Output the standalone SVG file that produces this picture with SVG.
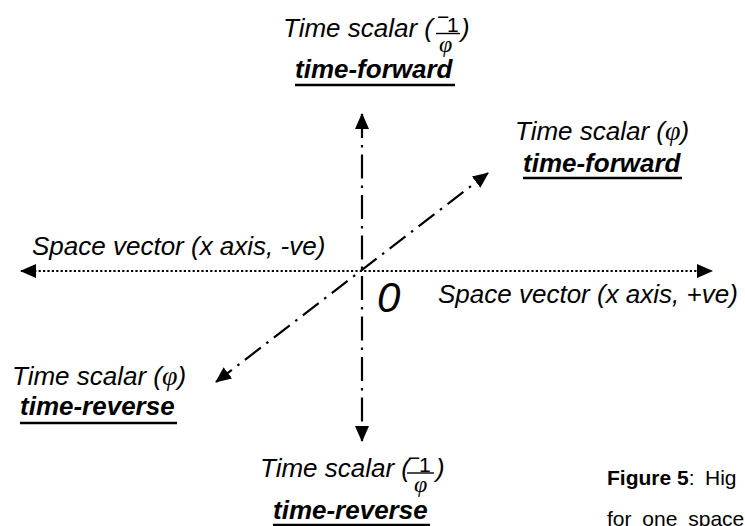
<svg xmlns="http://www.w3.org/2000/svg" width="745" height="526" viewBox="0 0 745 526">
<style>
.lbl{font-family:"Liberation Sans",Arial,sans-serif;font-size:26px;font-style:italic;fill:#000}
.bold{font-family:"Liberation Sans",Arial,sans-serif;font-size:26px;font-style:italic;font-weight:bold;fill:#000}
.num{font-family:"Liberation Sans",Arial,sans-serif;font-size:21px;fill:#000}
.phi{font-family:"Liberation Serif","DejaVu Serif",serif;font-size:24px;font-style:italic;fill:#000}
.phil{font-family:"Liberation Serif","DejaVu Serif",serif;font-size:28px;font-style:italic}
.ul{stroke:#000;stroke-width:2.5}
.bar{stroke:#000;stroke-width:1.4}
.cap{font-family:"Liberation Sans",Arial,sans-serif;font-size:21px;fill:#000}
.axis{fill:none;stroke:#000;stroke-width:2.2}
.dot{stroke-dasharray:2.2 2.2}
.dd{stroke-dasharray:24 7 2.5 7}
.dd2{stroke-dasharray:20 7 2.5 7}
</style>
<defs>
<marker id="ah" viewBox="0 0 16 14" refX="15" refY="7" markerWidth="16" markerHeight="14" markerUnits="userSpaceOnUse" orient="auto-start-reverse">
<path d="M0,0 L16,7 L0,14 Z" fill="#000"/>
</marker>
</defs>
<g id="connectors">
<line class="axis dot" x1="21" y1="271" x2="712" y2="271" marker-start="url(#ah)" marker-end="url(#ah)"/>
<line class="axis dd" x1="362" y1="114" x2="362" y2="441" marker-start="url(#ah)" marker-end="url(#ah)"/>
<line class="axis dd2" x1="216" y1="382" x2="488" y2="173" marker-start="url(#ah)" marker-end="url(#ah)"/>
</g>
<g id="top-label">
<text class="lbl" x="283" y="37">Time scalar (</text>
<text class="num" x="437" y="24">−</text>
<text class="num" x="447" y="32">1</text>
<line class="bar" x1="436" y1="33.5" x2="460" y2="33.5"/>
<text class="phi" x="439" y="52">φ</text>
<text class="lbl" x="461" y="37">)</text>
<text class="bold" x="295" y="78">time-forward</text>
<line class="ul" x1="295" y1="85" x2="455" y2="85"/>
</g>
<g id="upper-right-label">
<text class="lbl" x="515" y="140">Time scalar (<tspan class="phil">φ</tspan>)</text>
<text class="bold" x="523" y="172">time-forward</text>
<line class="ul" x1="523" y1="178" x2="682" y2="178"/>
</g>
<g id="left-label">
<text class="lbl" x="32" y="255">Space vector (x axis, -ve)</text>
</g>
<g id="origin">
<text class="lbl" x="377" y="312" style="font-size:42px">0</text>
</g>
<g id="right-label">
<text class="lbl" x="438" y="303">Space vector (x axis, +ve)</text>
</g>
<g id="lower-left-label">
<text class="lbl" x="12" y="385">Time scalar (<tspan class="phil">φ</tspan>)</text>
<text class="bold" x="20" y="415">time-reverse</text>
<line class="ul" x1="20" y1="423" x2="177" y2="423"/>
</g>
<g id="bottom-label">
<text class="lbl" x="260" y="477">Time scalar (</text>
<text class="num" x="408" y="465">−</text>
<text class="num" x="419" y="472">1</text>
<line class="bar" x1="407" y1="473" x2="434" y2="473"/>
<text class="phi" x="414" y="492">φ</text>
<text class="lbl" x="436" y="477">)</text>
<text class="bold" x="273" y="519">time-reverse</text>
<line class="ul" x1="273" y1="525" x2="430" y2="525"/>
</g>
<g id="caption">
<text class="cap" x="607" y="485"><tspan font-weight="bold">Figure 5</tspan>: <tspan x="705">Hig</tspan></text>
<text class="cap" x="607" y="526" word-spacing="5">for one space</text>
</g>
</svg>
